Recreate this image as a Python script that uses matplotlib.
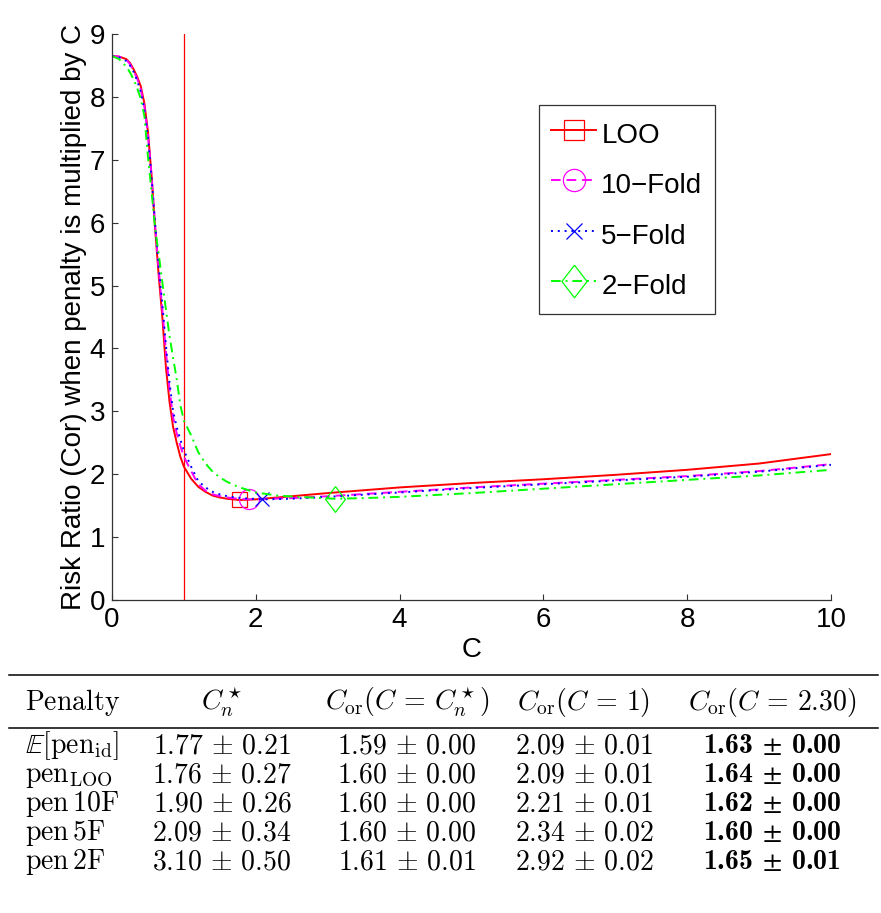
import matplotlib
matplotlib.use("Agg")
import matplotlib.pyplot as plt
from matplotlib.lines import Line2D

plt.rcParams['font.family'] = ['Liberation Sans', 'DejaVu Sans']
plt.rcParams['mathtext.fontset'] = 'cm'
# bold cells use the bundled Computer Modern bold through the custom set
plt.rcParams['mathtext.bf'] = 'cmb10'
plt.rcParams['mathtext.rm'] = 'STIXGeneral'

# risk ratio curves (C grid, ratio)
c_loo = [0, 0.1, 0.2, 0.25, 0.3, 0.35, 0.4, 0.45, 0.5, 0.55, 0.6, 0.65, 0.7, 0.75, 0.8, 0.85, 0.9, 0.95,
         1.0, 1.1, 1.2, 1.3, 1.4, 1.5, 1.6, 1.77, 2.0, 2.5, 3.0, 4.0, 5.0, 6.0, 7.0, 8.0, 9.0, 10.0]
r_loo = [8.65, 8.64, 8.60, 8.54, 8.44, 8.32, 8.17, 7.90, 7.45, 6.75, 5.90, 5.15, 4.50, 3.70, 3.15, 2.75, 2.50, 2.28,
         2.12, 1.93, 1.80, 1.72, 1.66, 1.63, 1.61, 1.59, 1.60, 1.65, 1.70, 1.79, 1.86, 1.92, 1.99, 2.07, 2.17, 2.32]

c_10f = [0, 0.1, 0.2, 0.25, 0.3, 0.35, 0.4, 0.45, 0.5, 0.55, 0.6, 0.65, 0.7, 0.75, 0.8, 0.85, 0.9, 0.95,
         1.0, 1.1, 1.2, 1.3, 1.4, 1.5, 1.6, 1.75, 1.9, 2.2, 2.5, 3.0, 4.0, 5.0, 6.0, 7.0, 8.0, 9.0, 10.0]
r_10f = [8.65, 8.64, 8.59, 8.52, 8.42, 8.29, 8.12, 7.85, 7.40, 6.75, 5.95, 5.25, 4.62, 3.95, 3.35, 2.90, 2.65, 2.45,
         2.28, 2.05, 1.84, 1.74, 1.68, 1.65, 1.63, 1.61, 1.60, 1.61, 1.62, 1.65, 1.72, 1.79, 1.85, 1.91, 1.97, 2.05, 2.16]

c_5f = [0, 0.1, 0.2, 0.25, 0.3, 0.35, 0.4, 0.45, 0.5, 0.55, 0.6, 0.65, 0.7, 0.75, 0.8, 0.85, 0.9, 0.95,
        1.0, 1.1, 1.2, 1.3, 1.4, 1.5, 1.6, 1.8, 2.09, 2.5, 3.0, 4.0, 5.0, 6.0, 7.0, 8.0, 9.0, 10.0]
r_5f = [8.65, 8.63, 8.57, 8.50, 8.40, 8.26, 8.08, 7.80, 7.35, 6.72, 5.98, 5.30, 4.70, 4.05, 3.45, 3.00, 2.75, 2.55,
        2.38, 2.12, 1.89, 1.79, 1.72, 1.68, 1.65, 1.62, 1.60, 1.61, 1.64, 1.71, 1.78, 1.84, 1.90, 1.96, 2.04, 2.15]

c_2f = [0, 0.1, 0.2, 0.25, 0.3, 0.35, 0.4, 0.45, 0.5, 0.55, 0.6, 0.65, 0.7, 0.75, 0.8, 0.85, 0.9, 0.95,
        1.0, 1.1, 1.2, 1.3, 1.4, 1.5, 1.6, 1.75, 2.0, 2.3, 2.6, 3.1, 3.5, 4.0, 5.0, 6.0, 7.0, 8.0, 9.0, 10.0]
r_2f = [8.65, 8.60, 8.48, 8.39, 8.28, 8.14, 7.97, 7.70, 7.05, 6.50, 5.90, 5.50, 5.05, 4.62, 4.20, 3.85, 3.51, 3.10,
        2.85, 2.62, 2.35, 2.17, 2.04, 1.95, 1.88, 1.80, 1.71, 1.66, 1.64, 1.61, 1.62, 1.64, 1.70, 1.77, 1.84, 1.91, 1.98, 2.07]

labels = ['LOO', '10\u2212Fold', '5\u2212Fold', '2\u2212Fold']

# table values
row_names = [r'$\mathbb{E}[\mathrm{pen}_{\mathrm{id}}]$', r'$\mathrm{pen}_{\mathrm{LOO}}$',
             r'$\mathrm{pen}\,10\mathrm{F}$', r'$\mathrm{pen}\,5\mathrm{F}$', r'$\mathrm{pen}\,2\mathrm{F}$']
headers = [r'$\mathrm{Penalty}$', r'$C_n^\star$', r'$C_{\mathrm{or}}(C \,=\, C_n^\star)$',
           r'$C_{\mathrm{or}}(C \,=\, 1)$', r'$C_{\mathrm{or}}(C \,=\, 2.30)$']
cn_mean = [1.77, 1.76, 1.90, 2.09, 3.10]
cn_std = [0.21, 0.27, 0.26, 0.34, 0.50]
cor_opt = [1.59, 1.60, 1.60, 1.60, 1.61]
cor_opt_std = [0.00, 0.00, 0.00, 0.00, 0.01]
cor_one = [2.09, 2.09, 2.21, 2.34, 2.92]
cor_one_std = [0.01, 0.01, 0.01, 0.02, 0.02]
cor_fix = [1.63, 1.64, 1.62, 1.60, 1.65]
cor_fix_std = [0.00, 0.00, 0.00, 0.00, 0.01]

W, H = 881, 913
fig = plt.figure(figsize=(W / 100, H / 100), dpi=100)
ax = fig.add_axes([112 / W, 1 - 600 / H, 719 / W, 566 / H])

curves = [(c_loo, r_loo), (c_10f, r_10f), (c_5f, r_5f), (c_2f, r_2f)]
colors = ['#ff0000', '#ff00ff', '#0000ff', '#00ff00']
dash_styles = [None, (5, 3), (1, 2.5), (5, 2.5, 1, 2.5)]
markers = ['s', 'o', 'x', [(0, 1), (0.77, 0), (0, -1), (-0.77, 0), (0, 1)]]
msizes = [10.8, 14.4, 10, 18.5]
leg_msizes = [15, 16, 11.5, 23.5]

ax.axvline(1, color='#ff0000', lw=0.9)

handles = []
for i, ((cx, ry), col, dsh, mk) in enumerate(zip(curves, colors, dash_styles, markers)):
    line, = ax.plot(cx, ry, color=col, lw=1.4)
    if dsh is not None:
        line.set_dashes(dsh)
    ax.plot([cn_mean[i + 1]], [cor_opt[i + 1]], ls='none', marker=mk, ms=msizes[i],
            mfc='none', mec=col, mew=0.9)
    h = Line2D([], [], color=col, lw=1.4, marker=mk, ms=leg_msizes[i], mfc='none', mec=col, mew=0.9)
    if dsh is not None:
        h.set_dashes(dsh)
    handles.append(h)

ax.set_xlim(0, 10)
ax.set_ylim(0, 9)
ax.set_xticks(range(0, 11, 2))
ax.set_yticks(range(0, 10))
ax.spines['top'].set_visible(False)
ax.spines['right'].set_visible(False)
for s in ['left', 'bottom']:
    ax.spines[s].set_color('0.2')
    ax.spines[s].set_linewidth(0.9)
ax.tick_params(direction='in', length=4.5, width=0.8, color='0.2', labelsize=20, pad=5)
ax.set_xlabel('C', fontsize=20, labelpad=3)
ax.set_ylabel('Risk Ratio (Cor) when penalty is multiplied by C', fontsize=20)
ax.yaxis.set_label_coords(-0.035, 0.5)

leg = ax.legend(handles, labels, loc='upper left', bbox_to_anchor=(0.594, 0.875),
                fontsize=20, frameon=True, fancybox=False, edgecolor='black',
                handlelength=1.6, handleheight=1.48, handletextpad=0.2, labelspacing=0.61,
                borderpad=0.44, borderaxespad=0)
leg.get_frame().set_linewidth(0.9)

# table below the plot
def fx(px):
    return px / W

def fy(py):
    return 1 - py / H

for py in [675, 728]:
    fig.add_artist(Line2D([fx(9), fx(878)], [fy(py), fy(py)], color='black', lw=1.1))

col_x = [25, 222, 407, 584, 772]
fig.text(fx(col_x[0]), fy(710), headers[0], fontsize=20, ha='left', va='baseline')
for j in range(1, 5):
    fig.text(fx(col_x[j]), fy(710), headers[j], fontsize=20, ha='center', va='baseline')

row_y = [753, 782, 811, 840, 869]
for i in range(5):
    y = fy(row_y[i])
    fig.text(fx(col_x[0]), y, row_names[i], fontsize=20, ha='left', va='baseline')
    fig.text(fx(col_x[1]), y, rf'${cn_mean[i]:.2f} \,\pm\, {cn_std[i]:.2f}$',
             fontsize=20, ha='center', va='baseline')
    fig.text(fx(col_x[2]), y, rf'${cor_opt[i]:.2f} \,\pm\, {cor_opt_std[i]:.2f}$',
             fontsize=20, ha='center', va='baseline')
    fig.text(fx(col_x[3]), y, rf'${cor_one[i]:.2f} \,\pm\, {cor_one_std[i]:.2f}$',
             fontsize=20, ha='center', va='baseline')
    fig.text(fx(col_x[4]), y, rf'$\mathbf{{{cor_fix[i]:.2f}}} \,\pm\, \mathbf{{{cor_fix_std[i]:.2f}}}$',
             fontsize=20, ha='center', va='baseline', math_fontfamily='custom')

fig.savefig('out.png', dpi=100)
